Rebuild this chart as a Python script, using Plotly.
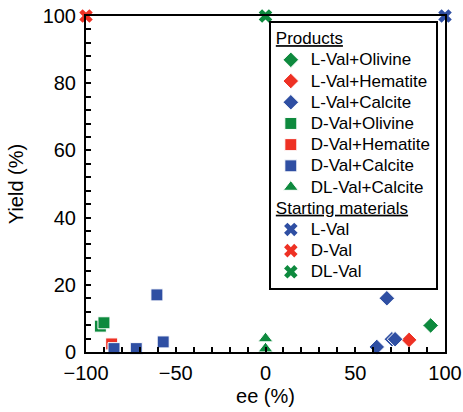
import plotly.graph_objects as go

GREEN = "#0e8a3e"
RED = "#ee3124"
BLUE = "#2f4fa3"

# Products
lval_olivine_ee = [92]
lval_olivine_y = [7.9]
lval_hematite_ee = [80]
lval_hematite_y = [3.6]
lval_calcite_ee = [67.6, 62, 70.4, 72.2]
lval_calcite_y = [16, 1.5, 3.8, 3.8]
dval_olivine_ee = [-92, -90]
dval_olivine_y = [7.7, 8.7]
dval_hematite_ee = [-85.7]
dval_hematite_y = [2.4]
dval_calcite_ee = [-84.4, -72, -60.5, -57]
dval_calcite_y = [1, 1, 17, 3]
dlval_calcite_ee = [0, 0]
dlval_calcite_y = [1, 4]

# Starting materials
lval_ee, lval_y = [100], [100]
dval_ee, dval_y = [-100], [100]
dlval_ee, dlval_y = [0], [100]

x_ticks = [-100, -50, 0, 50, 100]
y_ticks = [0, 20, 40, 60, 80, 100]

FONT = "Liberation Sans, Arial, sans-serif"


def big(t):
    return f"<span style='font-size:17px'>{t}</span>"


fig = go.Figure()


def add(name, xs, ys, symbol, color, size, group, title=None, line_w=1, line_c="white"):
    kw = {}
    if title:
        kw["legendgrouptitle"] = dict(text=big(title), font=dict(size=14, family=FONT, color="black"))
    fig.add_trace(go.Scatter(
        x=xs, y=ys, mode="markers", name=big(name),
        legendgroup=group,
        marker=dict(symbol=symbol, color=color, size=size,
                    line=dict(color=line_c, width=line_w)),
        cliponaxis=False, **kw))


add("L-Val+Olivine", lval_olivine_ee, lval_olivine_y, "diamond", GREEN, 12, "p", "<u>Products</u>")
add("L-Val+Hematite", lval_hematite_ee, lval_hematite_y, "diamond", RED, 12, "p")
add("L-Val+Calcite", lval_calcite_ee, lval_calcite_y, "diamond", BLUE, 12, "p")
add("D-Val+Olivine", dval_olivine_ee, dval_olivine_y, "square", GREEN, 12, "p")
add("D-Val+Hematite", dval_hematite_ee, dval_hematite_y, "square", RED, 12, "p")
add("D-Val+Calcite", dval_calcite_ee, dval_calcite_y, "square", BLUE, 12, "p")
add("DL-Val+Calcite", dlval_calcite_ee, dlval_calcite_y, "triangle-up", GREEN, 13, "p")
add("L-Val", lval_ee, lval_y, "x", BLUE, 12, "s", "<u>Starting materials</u>", 0)
add("D-Val", dval_ee, dval_y, "x", RED, 12, "s", None, 0)
add("DL-Val", dlval_ee, dlval_y, "x", GREEN, 12, "s", None, 0)

axis_common = dict(
    showline=True, linecolor="black", linewidth=2, mirror=True,
    ticks="inside", ticklen=5, tickwidth=1.5, tickcolor="black",
    showgrid=False, zeroline=False, automargin=False,
    ticklabeloverflow="allow",
    tickfont=dict(size=20, family=FONT, color="black"),
)

fig.update_xaxes(range=[-100, 100], tickvals=x_ticks, ticklabelstandoff=2,
                 minor=dict(dtick=10, tick0=0, ticks="inside", ticklen=5, tickwidth=1.5, tickcolor="black"),
                 title=dict(text="ee (%)", font=dict(size=20, family=FONT, color="black"), standoff=6),
                 **axis_common)
fig.update_yaxes(range=[0, 100], tickvals=y_ticks, ticklabelstandoff=4,
                 minor=dict(dtick=4, tick0=0, ticks="inside", ticklen=5, tickwidth=1.5, tickcolor="black"),
                 title=dict(text="Yield (%)", font=dict(size=20, family=FONT, color="black"), standoff=14),
                 **axis_common)

fig.update_layout(
    width=463, height=412,
    margin=dict(l=86, r=18, t=16, b=60),
    plot_bgcolor="white", paper_bgcolor="white",
    legend=dict(
        x=0.98, y=0.985, xanchor="right", yanchor="top",
        bgcolor="white", bordercolor="black", borderwidth=2,
        font=dict(size=14, family=FONT, color="black"),
        tracegroupgap=0, itemwidth=30,
    ),
)

fig.write_html("out.html", config={"displayModeBar": False},
               post_script="document.body.style.margin='0';")
